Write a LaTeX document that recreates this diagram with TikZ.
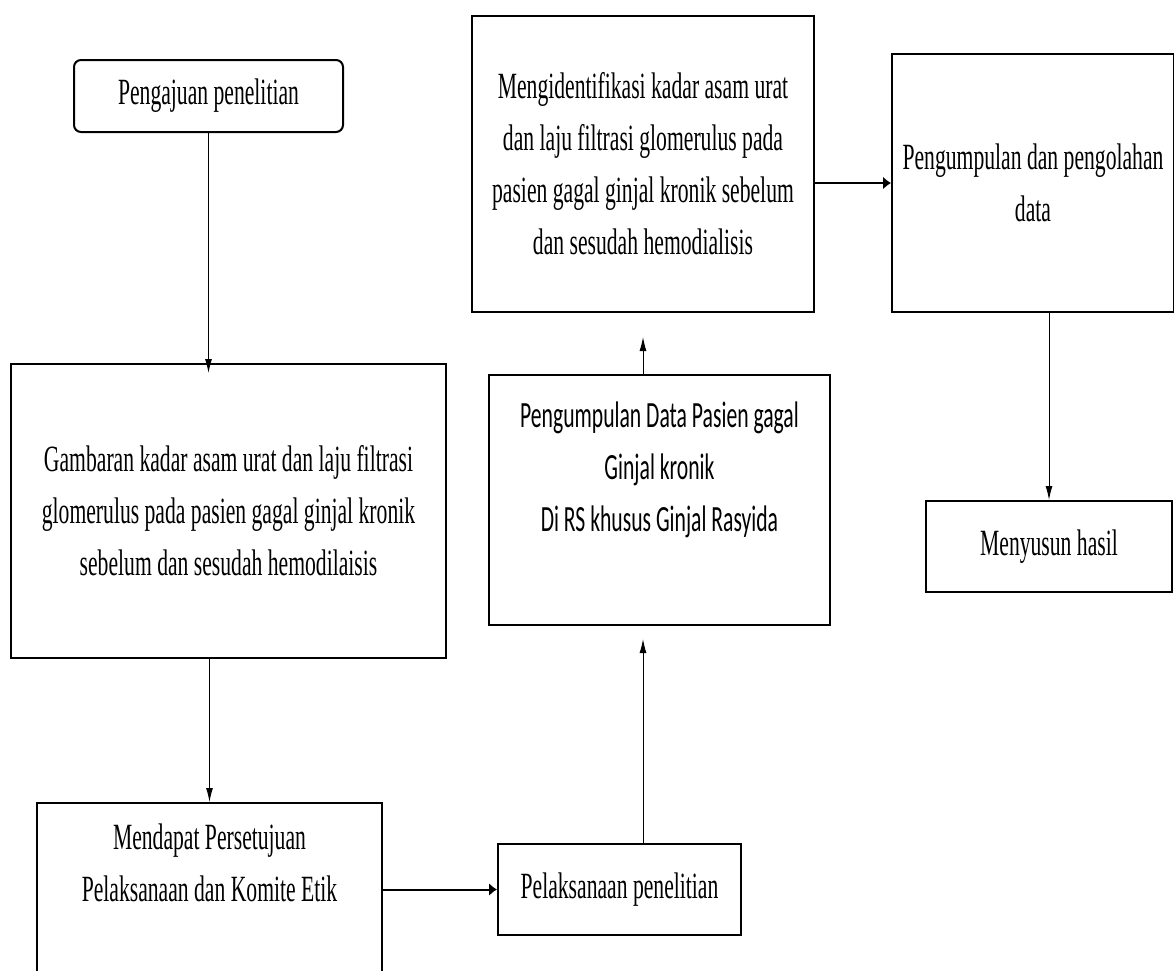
\documentclass[tikz,border=0pt]{standalone}
\usepackage{fontspec}
\setmainfont[FakeStretch=0.585]{Liberation Serif}
\newfontfamily\sansbox[FakeStretch=0.585]{Carlito}
\usetikzlibrary{positioning,arrows.meta}

\begin{document}
\begin{tikzpicture}[x=1pt,y=-1pt,align=center,font=\fontsize{37}{52}\selectfont]
    \tikzstyle{stepbox} = [draw,line width=2pt,rectangle,inner sep=0pt]
    \tikzstyle{startbox} = [stepbox,rounded corners=7pt]
    \tikzstyle{flowdown} = [line width=1pt,-{Latex[length=14pt,width=7pt]}]
    \tikzstyle{flowright} = [line width=2pt,-{Latex[length=8pt,width=13pt]}]
      \useasboundingbox (0,0) rectangle (1174,970);
      \clip (0,0) rectangle (1174,970);
      \node[startbox,minimum width=269pt,minimum height=72pt] (mulai) at (208.5,96) {Pengajuan penelitian};
      \node[stepbox,minimum width=435pt,minimum height=294pt] (gambaran) at (228.5,511) {Gambaran kadar asam urat dan laju filtrasi\\glomerulus pada pasien gagal ginjal kronik\\sebelum dan sesudah hemodilaisis};
      \node[stepbox,minimum width=345pt,minimum height=238pt] (persetujuan) at (209.5,922) {Mendapat Persetujuan\\Pelaksanaan dan Komite Etik\\\strut\\\strut};
      \node[stepbox,minimum width=243pt,minimum height=91pt] (pelaksanaan) at (619.5,889.5) {Pelaksanaan penelitian};
      \node[stepbox,minimum width=341pt,minimum height=250pt,font=\sansbox\fontsize{37}{52}\selectfont] (data) at (659.5,500) {Pengumpulan Data Pasien gagal\\Ginjal kronik\\Di RS khusus Ginjal Rasyida\\\strut};
      \node[stepbox,minimum width=342pt,minimum height=296pt] (identifikasi) at (643,164) {Mengidentifikasi kadar asam urat\\dan laju filtrasi glomerulus pada\\pasien gagal ginjal kronik sebelum\\dan sesudah hemodialisis};
      \node[stepbox,minimum width=282pt,minimum height=258pt] (olah) at (1033,183) {Pengumpulan dan pengolahan\\data};
      \node[stepbox,minimum width=246pt,minimum height=91pt] (hasil) at (1049,546.5) {Menyusun hasil};
      \draw[flowdown,shorten >=-10pt] (mulai.south) -- (mulai.south |- gambaran.north);
      \draw[flowdown] (gambaran.south -| persetujuan.north) -- (persetujuan.north);
      \draw[flowright] (persetujuan.east |- pelaksanaan.west) -- (pelaksanaan.west);
      \draw[flowdown,shorten >=13pt] (pelaksanaan.north -| identifikasi.south) -- (data.south -| identifikasi.south);
      \draw[flowdown,shorten >=24pt] (data.north -| identifikasi.south) -- (identifikasi.south);
      \draw[flowright] (identifikasi.east |- olah.west) -- (olah.west);
      \draw[flowdown] (olah.south -| hasil.north) -- (hasil.north);
  \end{tikzpicture}
\end{document}
